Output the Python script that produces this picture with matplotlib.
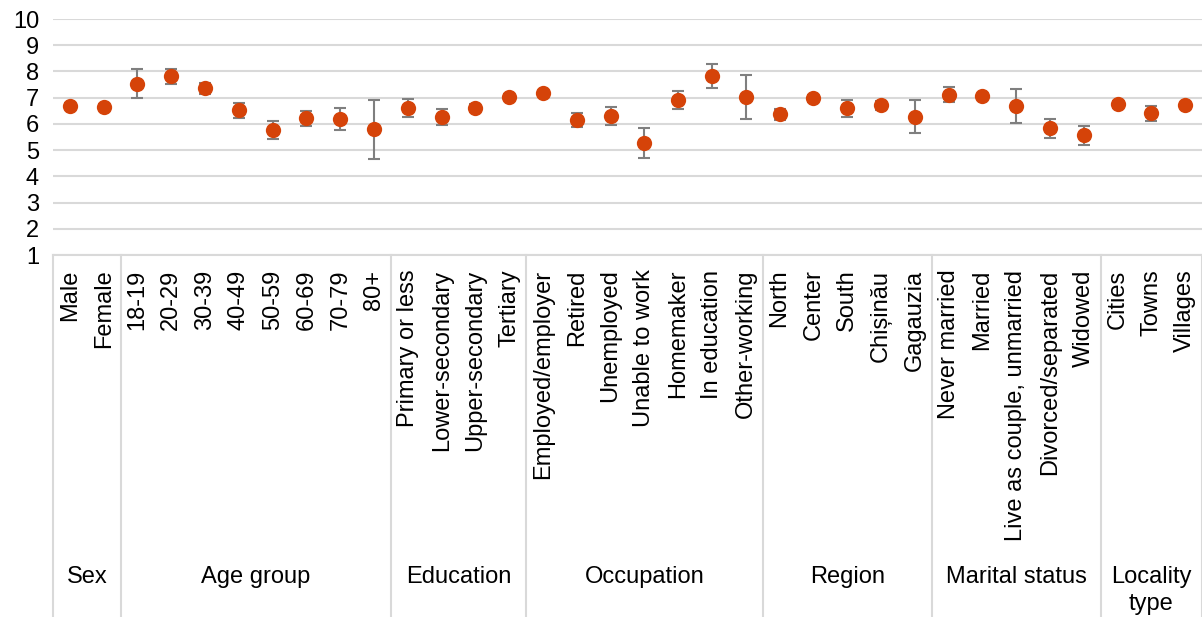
import numpy as np
import matplotlib.pyplot as plt

# groups and their categories
groups = ["Sex", "Age group", "Education", "Occupation", "Region",
          "Marital status", "Locality\ntype"]
categories = [
    ["Male", "Female"],
    ["18-19", "20-29", "30-39", "40-49", "50-59", "60-69", "70-79", "80+"],
    ["Primary or less", "Lower-secondary", "Upper-secondary", "Tertiary"],
    ["Employed/employer", "Retired", "Unemployed", "Unable to work",
     "Homemaker", "In education", "Other-working"],
    ["North", "Center", "South", "Chișinău", "Gagauzia"],
    ["Never married", "Married", "Live as couple, unmarried",
     "Divorced/separated", "Widowed"],
    ["Cities", "Towns", "Villages"],
]

# mean score and half-width of the confidence interval
means = [6.68, 6.65,
         7.54, 7.81, 7.35, 6.52, 5.76, 6.21, 6.17, 5.79,
         6.60, 6.25, 6.60, 7.03,
         7.16, 6.15, 6.31, 5.27, 6.90, 7.82, 7.02,
         6.36, 6.97, 6.59, 6.71, 6.28,
         7.11, 7.05, 6.69, 5.83, 5.56,
         6.74, 6.40, 6.71]
errors = [0.10, 0.10,
          0.55, 0.28, 0.22, 0.28, 0.35, 0.30, 0.42, 1.12,
          0.34, 0.30, 0.15, 0.10,
          0.10, 0.27, 0.34, 0.56, 0.35, 0.45, 0.84,
          0.20, 0.12, 0.33, 0.18, 0.62,
          0.29, 0.10, 0.64, 0.36, 0.35,
          0.12, 0.28, 0.10]

plt.rcParams['font.family'] = ['Liberation Sans', 'DejaVu Sans']

W, H = 1202, 617
fig = plt.figure(figsize=(W / 100, H / 100), dpi=100)
ax = fig.add_axes([53 / W, 1 - 255 / H, 1 - 53 / W, (255 - 19) / H])

labels = [c for grp in categories for c in grp]
x = np.arange(len(labels))
grid_col = '#d9d9d9'

ax.errorbar(x, means, yerr=errors, fmt='none', ecolor='#7f7f7f',
            elinewidth=1.5, capsize=4, capthick=1.5, zorder=2)
ax.plot(x, means, 'o', color='#d54309', markersize=11, zorder=3,
        markeredgewidth=0)

ax.set_xlim(-0.5, len(labels) - 0.5)
ax.set_ylim(1, 10)
ax.set_yticks(range(1, 11))
ax.yaxis.grid(True, color=grid_col, linewidth=1.5)
ax.set_axisbelow(True)
for s in ['top', 'right', 'left']:
    ax.spines[s].set_visible(False)
ax.spines['bottom'].set_color(grid_col)
ax.spines['bottom'].set_linewidth(1.5)
ax.tick_params(axis='y', length=0, labelsize=17, pad=10, colors='black')
ax.tick_params(axis='x', length=0, labelsize=17, pad=10.5)
ax.set_xticks(x)
ax.set_xticklabels(labels, rotation=90, va='top', ha='center')

# group dividers and names below the category labels
trans = ax.get_xaxis_transform()
start = 0
bounds = [-0.5]
for name, grp in zip(groups, categories):
    end = start + len(grp)
    bounds.append(end - 0.5)
    mid = (start + end - 1) / 2
    ax.text(mid, -(566 - 255) / (255 - 19), name, transform=trans,
            ha='center', va='top', fontsize=17, linespacing=1.3)
    start = end
for b in bounds:
    ax.plot([b, b], [0, -(H - 255) / (255 - 19)], transform=trans,
            color=grid_col, linewidth=1.5, clip_on=False)

fig.savefig("out.png", dpi=100)
